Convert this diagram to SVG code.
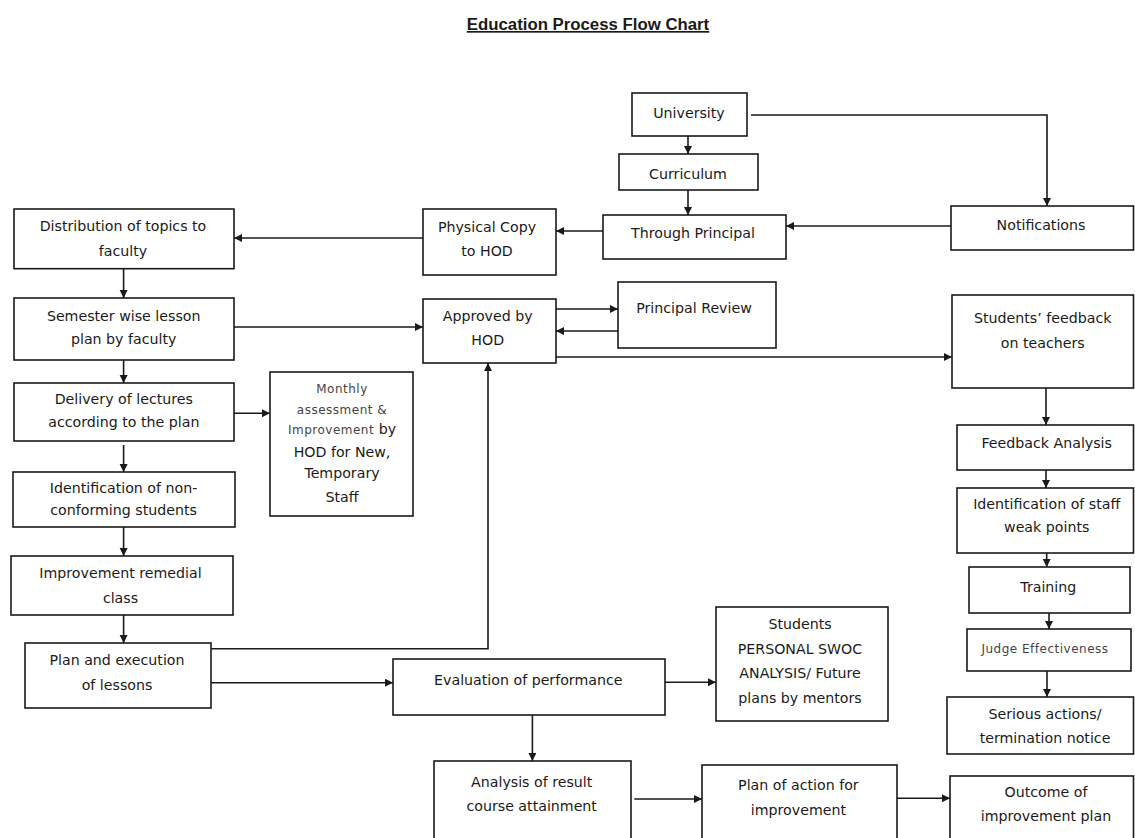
<svg xmlns="http://www.w3.org/2000/svg" width="1135" height="838" viewBox="0 0 1135 838">
<style>
.box{fill:#fff;stroke:#1a1a1a;stroke-width:1.6}
.t{font-family:"DejaVu Sans","Verdana",sans-serif;font-size:14.2px;fill:#1a1a1a;text-anchor:middle}
.s{font-family:"DejaVu Sans","Verdana",sans-serif;font-size:12px;fill:#444;letter-spacing:0.5px}
.title{font-family:"Liberation Sans",Arial,sans-serif;font-weight:bold;font-size:16.8px;fill:#1a1a1a;text-anchor:middle;text-decoration:underline}
.c{fill:none;stroke:#1a1a1a;stroke-width:1.6;marker-end:url(#ah)}
</style>
<defs>
<marker id="ah" markerUnits="userSpaceOnUse" markerWidth="9" markerHeight="9" refX="8" refY="4" orient="auto">
<path d="M0,0 L8,4 L0,8 z" fill="#1a1a1a"/>
</marker>
</defs>
<rect width="1135" height="838" fill="#fff"/>
<text class="title" x="588" y="30">Education Process Flow Chart</text>

<g id="connectors">
<path class="c" d="M688,136 V154"/>
<path class="c" d="M688,190 V215"/>
<path class="c" d="M751,115 H1047 V206"/>
<path class="c" d="M951,226 H786"/>
<path class="c" d="M603,231 H556"/>
<path class="c" d="M423,238 H234"/>
<path class="c" d="M123.6,268.7 V298"/>
<path class="c" d="M234,327 H423"/>
<path class="c" d="M556,309 H618"/>
<path class="c" d="M618,331 H556"/>
<path class="c" d="M556,357 H952"/>
<path class="c" d="M123.6,360 V383"/>
<path class="c" d="M234,413.3 H270"/>
<path class="c" d="M123.6,445 V472"/>
<path class="c" d="M123.6,527 V556"/>
<path class="c" d="M123.6,615 V643"/>
<path class="c" d="M211,648.7 H488 V363"/>
<path class="c" d="M211,682.7 H393"/>
<path class="c" d="M665,682.3 H716"/>
<path class="c" d="M532.4,714.7 V761"/>
<path class="c" d="M634.3,799 H702"/>
<path class="c" d="M897,798.3 H950"/>
<path class="c" d="M1046,388 V425"/>
<path class="c" d="M1046,470 V488"/>
<path class="c" d="M1046.7,553 V567"/>
<path class="c" d="M1049,613 V629"/>
<path class="c" d="M1047,671 V697"/>
</g>

<g id="university"><rect class="box" x="632" y="93" width="115" height="43"/><text class="t" x="689" y="118">University</text></g>
<g id="curriculum"><rect class="box" x="619" y="154" width="139" height="36"/><text class="t" x="688" y="178.5">Curriculum</text></g>
<g id="through-principal"><rect class="box" x="603" y="215" width="183" height="44"/><text class="t" x="693" y="238">Through Principal</text></g>
<g id="notifications"><rect class="box" x="951" y="206" width="182.5" height="44"/><text class="t" x="1041" y="230">Notifications</text></g>
<g id="physical-copy"><rect class="box" x="423" y="209" width="133" height="66"/><text class="t" x="487" y="231.5">Physical Copy</text><text class="t" x="487" y="255.5">to HOD</text></g>
<g id="distribution"><rect class="box" x="14" y="209" width="220" height="59.7"/><text class="t" x="123" y="231">Distribution  of topics  to</text><text class="t" x="123" y="256">faculty</text></g>
<g id="semester"><rect class="box" x="14" y="298" width="220" height="62"/><text class="t" x="123.7" y="320.7">Semester wise lesson</text><text class="t" x="123.7" y="344">plan by faculty</text></g>
<g id="approved"><rect class="box" x="423" y="299" width="133" height="64"/><text class="t" x="487.7" y="320.7">Approved by</text><text class="t" x="487.7" y="345.3">HOD</text></g>
<g id="principal-review"><rect class="box" x="618" y="282" width="158" height="66"/><text class="t" x="694" y="313">Principal Review</text></g>
<g id="students-feedback"><rect class="box" x="952" y="295" width="181.5" height="93"/><text class="t" x="1042.7" y="323.3">Students’ feedback</text><text class="t" x="1042.7" y="348.3">on teachers</text></g>
<g id="delivery"><rect class="box" x="14" y="383" width="220" height="58"/><text class="t" x="123.8" y="404.3">Delivery of lectures</text><text class="t" x="123.8" y="426.7">according to the plan</text></g>
<g id="monthly"><rect class="box" x="270" y="372" width="143" height="144"/>
<text class="s" x="342" y="392.7" text-anchor="middle">Monthly</text>
<text class="s" x="342" y="414" text-anchor="middle">assessment &amp;</text>
<text x="342" y="434" text-anchor="middle"><tspan class="s">Improvement</tspan><tspan style="font-family:'DejaVu Sans',Verdana,sans-serif;font-size:14.2px;fill:#1a1a1a"> by</tspan></text>
<text class="t" x="342" y="456.7">HOD for New,</text>
<text class="t" x="342" y="478.3">Temporary</text>
<text class="t" x="342" y="502.3">Staff</text></g>
<g id="feedback-analysis"><rect class="box" x="957" y="425" width="176.5" height="45"/><text class="t" x="1046.7" y="448.3">Feedback Analysis</text></g>
<g id="non-conforming"><rect class="box" x="13" y="472" width="222" height="55"/><text class="t" x="123.6" y="493.3">Identification  of non-</text><text class="t" x="123.6" y="515">conforming  students</text></g>
<g id="staff-weak-points"><rect class="box" x="957" y="488" width="176.5" height="65"/><text class="t" x="1046.7" y="509.3">Identification  of staff</text><text class="t" x="1046.7" y="532.3">weak points</text></g>
<g id="remedial"><rect class="box" x="11" y="556" width="222" height="59"/><text class="t" x="120.5" y="578.3">Improvement remedial</text><text class="t" x="120.5" y="602.7">class</text></g>
<g id="training"><rect class="box" x="969" y="567" width="161" height="46"/><text class="t" x="1048.3" y="591.7">Training</text></g>
<g id="swoc"><rect class="box" x="716" y="607" width="172" height="114"/><text class="t" x="800" y="629.3">Students</text><text class="t" x="800" y="654">PERSONAL SWOC</text><text class="t" x="800" y="677.7">ANALYSIS/ Future</text><text class="t" x="800" y="702.7">plans by mentors</text></g>
<g id="judge"><rect class="box" x="967" y="629" width="164" height="42"/><text class="s" x="1045" y="652.7" text-anchor="middle">Judge Effectiveness</text></g>
<g id="plan-execution"><rect class="box" x="25" y="643" width="186" height="65"/><text class="t" x="117" y="665">Plan and execution</text><text class="t" x="117" y="690">of lessons</text></g>
<g id="evaluation"><rect class="box" x="393" y="659" width="272" height="56"/><text class="t" x="528.3" y="684.5">Evaluation of performance</text></g>
<g id="serious"><rect class="box" x="947" y="697" width="186.5" height="57"/><text class="t" x="1045" y="719.3">Serious actions/</text><text class="t" x="1045" y="743.3">termination  notice</text></g>
<g id="analysis-result"><rect class="box" x="434" y="761" width="197" height="90"/><text class="t" x="531.7" y="786.7">Analysis of result</text><text class="t" x="531.7" y="810.7">course attainment</text></g>
<g id="plan-action"><rect class="box" x="702" y="765" width="195" height="90"/><text class="t" x="798.4" y="790">Plan of action  for</text><text class="t" x="798.4" y="815">improvement</text></g>
<g id="outcome"><rect class="box" x="950" y="776" width="183.5" height="80"/><text class="t" x="1046" y="796.7">Outcome  of</text><text class="t" x="1046" y="820.7">improvement plan</text></g>
</svg>
